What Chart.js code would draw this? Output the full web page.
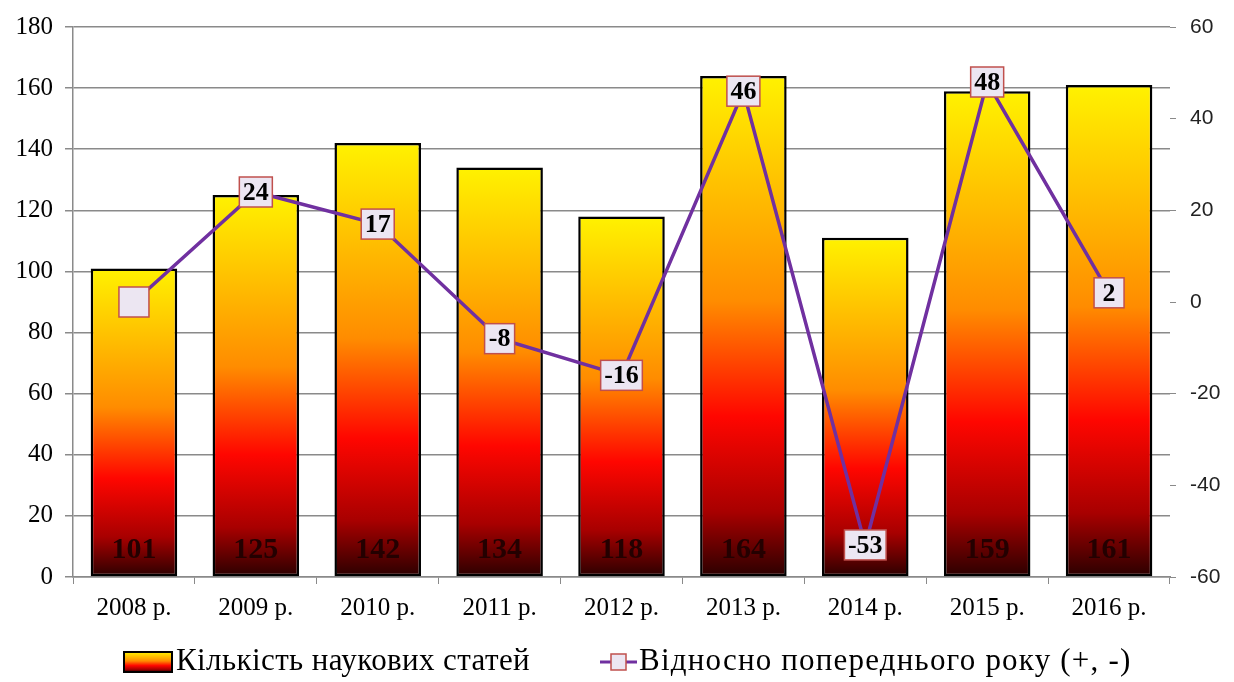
<!DOCTYPE html>
<html>
<head>
<meta charset="utf-8">
<title>Кількість наукових статей</title>
<script src="https://cdn.jsdelivr.net/npm/chart.js@4/dist/chart.umd.min.js"></script>
<style>
  html, body { margin: 0; padding: 0; background: #fff; }
  canvas { display: block; }
</style>
</head>
<body>
<canvas id="articlesChart" width="1234" height="682"></canvas>
<script>
// ---- data ----
const years = ['2008 р.', '2009 р.', '2010 р.', '2011 р.', '2012 р.', '2013 р.', '2014 р.', '2015 р.', '2016 р.'];
const articleCounts = [101, 125, 142, 134, 118, 164, 111, 159, 161];
const changeVsPrev = [0, 24, 17, -8, -16, 46, -53, 48, 2];
const changeLabels = ['', '24', '17', '-8', '-16', '46', '-53', '48', '2'];
const leftTicks = [0, 180, 20];   // min, max, step
const rightTicks = [-60, 60, 20];
const legendLabels = ['Кількість наукових статей', 'Відносно попереднього року (+, -)'];

const SERIF = '"Liberation Serif", "DejaVu Serif", serif';
const GRID = '#8a8a8a';
const PURPLE = '#7030A0';

function addBarStops(g) {
  g.addColorStop(0, '#FFF200');
  g.addColorStop(0.45, '#FF8C00');
  g.addColorStop(0.68, '#FF0600');
  g.addColorStop(0.87, '#A80000');
  g.addColorStop(1, '#2A0000');
  return g;
}

// each bar gets its own gradient, yellow at the top down to maroon at the base
function barGradient(c) {
  const chart = c.chart;
  if (!chart.chartArea || c.dataIndex == null) return '#FF9000';
  const y = chart.scales.y;
  const top = y.getPixelForValue(articleCounts[c.dataIndex]);
  const base = y.getPixelForValue(0);
  return addBarStops(chart.ctx.createLinearGradient(0, top, 0, base));
}

// numbers at the foot of each bar (drawn before the line so the line sits on top)
const barLabels = {
  id: 'barLabels',
  afterDatasetDraw(chart, args) {
    if (args.meta.type !== 'bar') return;
    const ctx = chart.ctx;
    const base = chart.scales.y.getPixelForValue(0);
    ctx.save();
    ctx.font = 'bold 30px ' + SERIF;
    ctx.fillStyle = '#240000';
    ctx.textAlign = 'center';
    ctx.textBaseline = 'middle';
    args.meta.data.forEach((bar, i) => {
      ctx.fillText(String(articleCounts[i]), bar.x, base - 27);
    });
    ctx.restore();
  }
};

// boxed labels on the line points
const pointBoxes = {
  id: 'pointBoxes',
  afterDatasetsDraw(chart) {
    const meta = chart.getDatasetMeta(0);
    const ctx = chart.ctx;
    ctx.save();
    ctx.font = 'bold 26px ' + SERIF;
    ctx.textAlign = 'center';
    ctx.textBaseline = 'middle';
    meta.data.forEach((pt, i) => {
      const txt = changeLabels[i];
      const w = Math.max(30, ctx.measureText(txt).width + 7);
      const h = 30;
      ctx.fillStyle = '#ECE6F2';
      ctx.fillRect(pt.x - w / 2, pt.y - h / 2, w, h);
      ctx.strokeStyle = '#C0504D';
      ctx.lineWidth = 1.5;
      ctx.strokeRect(pt.x - w / 2, pt.y - h / 2, w, h);
      ctx.fillStyle = '#000';
      ctx.fillText(txt, pt.x, pt.y + 1);
    });
    ctx.restore();
  }
};

// legend drawn by hand to get the gradient swatch and the line+square marker
const bottomLegend = {
  id: 'bottomLegend',
  afterDraw(chart) {
    const ctx = chart.ctx;
    const cy = 662;
    ctx.save();
    ctx.font = '31px ' + SERIF;
    ctx.textBaseline = 'middle';

    // bar swatch
    ctx.fillStyle = addBarStops(ctx.createLinearGradient(0, cy - 10, 0, cy + 10));
    ctx.fillRect(124, cy - 10, 48, 20);
    ctx.strokeStyle = '#000';
    ctx.lineWidth = 2;
    ctx.strokeRect(124, cy - 10, 48, 20);
    ctx.fillStyle = '#000';
    ctx.letterSpacing = '0.4px';
    ctx.fillText(legendLabels[0], 176, cy);

    // line swatch
    ctx.strokeStyle = PURPLE;
    ctx.lineWidth = 3;
    ctx.beginPath();
    ctx.moveTo(600, cy);
    ctx.lineTo(637, cy);
    ctx.stroke();
    ctx.fillStyle = '#ECE6F2';
    ctx.fillRect(611, cy - 8, 15, 16);
    ctx.strokeStyle = '#C0504D';
    ctx.lineWidth = 1.5;
    ctx.strokeRect(611, cy - 8, 15, 16);
    ctx.fillStyle = '#000';
    ctx.letterSpacing = '1.2px';
    ctx.fillText(legendLabels[1], 639, cy);
    ctx.restore();
  }
};

new Chart(document.getElementById('articlesChart'), {
  data: {
    labels: years,
    datasets: [
      {
        type: 'line',
        label: legendLabels[1],
        data: changeVsPrev,
        yAxisID: 'y1',
        borderColor: PURPLE,
        borderWidth: 3.5,
        pointRadius: 0,
        tension: 0,
        order: 1
      },
      {
        type: 'bar',
        label: legendLabels[0],
        data: articleCounts,
        yAxisID: 'y',
        backgroundColor: barGradient,
        borderColor: '#000',
        borderWidth: 2.5,
        borderSkipped: false,
        barPercentage: 0.71,
        categoryPercentage: 1,
        order: 2
      }
    ]
  },
  options: {
    responsive: false,
    animation: false,
    layout: { padding: { top: 27, left: 0, right: 0, bottom: 60 } },
    plugins: {
      legend: { display: false },
      tooltip: { enabled: false }
    },
    scales: {
      x: {
        offset: true,
        afterFit: s => { s.height = 45; },
        grid: { display: true, drawOnChartArea: false, offset: true, tickLength: 7, color: GRID },
        border: { display: true, color: GRID, width: 1.5 },
        ticks: { color: '#000', padding: 9, font: { family: SERIF, size: 25 }, maxRotation: 0 }
      },
      y: {
        position: 'left',
        min: leftTicks[0],
        max: leftTicks[1],
        afterFit: s => { s.width = 73; },
        grid: { color: GRID, lineWidth: 1.5, tickLength: 8 },
        border: { display: true, color: GRID, width: 1.5 },
        ticks: { stepSize: leftTicks[2], color: '#000', padding: 12, font: { family: SERIF, size: 25 } }
      },
      y1: {
        position: 'right',
        min: rightTicks[0],
        max: rightTicks[1],
        afterFit: s => { s.width = 64; },
        grid: { drawOnChartArea: false, tickLength: 6, color: GRID },
        border: { display: false },
        ticks: { stepSize: rightTicks[2], color: '#222', padding: 14, font: { family: '"Liberation Sans", Arial, sans-serif', size: 21 } }
      }
    }
  },
  plugins: [barLabels, pointBoxes, bottomLegend]
});
</script>
</body>
</html>
